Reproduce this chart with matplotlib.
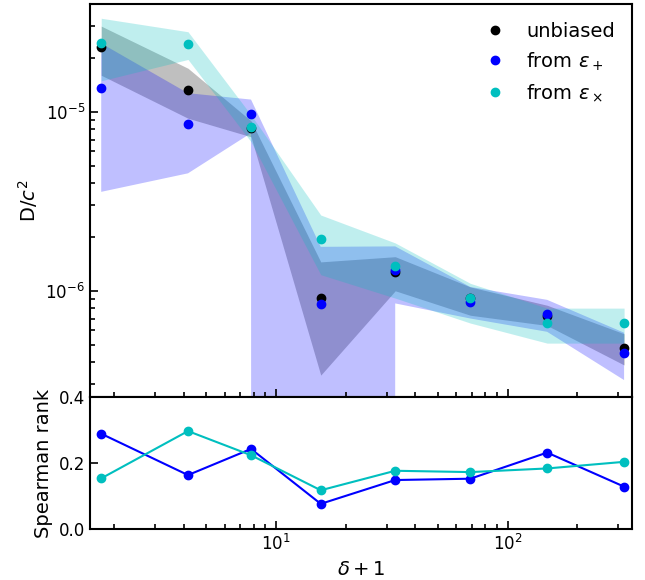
import matplotlib
matplotlib.use("Agg")
import matplotlib.pyplot as plt
from matplotlib.ticker import NullFormatter, FixedLocator

# delta + 1 bin positions
x = [1.76, 4.17, 7.8, 15.6, 32.7, 69.0, 148.0, 318.0]

# D/c^2 estimates
d_unbiased = [2.31e-5, 1.33e-5, 8.07e-6, 9.06e-7, 1.28e-6, 9.1e-7, 7.25e-7, 4.8e-7]
d_plus = [1.36e-5, 8.5e-6, 9.7e-6, 8.4e-7, 1.31e-6, 8.7e-7, 7.4e-7, 4.5e-7]
d_cross = [2.41e-5, 2.38e-5, 8.2e-6, 1.94e-6, 1.38e-6, 9.1e-7, 6.6e-7, 6.6e-7]

# band limits (mean +/- spread)
unb_lo = [1.6e-5, 9.2e-6, 7.25e-6, 3.38e-7, 1.0e-6, 7.3e-7, 6.4e-7, 3.85e-7]
unb_hi = [3.01e-5, 1.75e-5, 8.9e-6, 1.45e-6, 1.55e-6, 1.05e-6, 8.3e-7, 5.75e-7]
plus_lo = [3.57e-6, 4.53e-6, 7.6e-6, -8e-8, 8.5e-7, 7.0e-7, 5.9e-7, 3.17e-7]
plus_hi = [2.41e-5, 1.27e-5, 1.17e-5, 1.76e-6, 1.77e-6, 1.05e-6, 8.9e-7, 5.83e-7]
cross_lo = [1.49e-5, 1.96e-5, 6.8e-6, 1.23e-6, 9.1e-7, 6.6e-7, 5.1e-7, 5.1e-7]
cross_hi = [3.33e-5, 2.8e-5, 9.6e-6, 2.65e-6, 1.85e-6, 1.1e-6, 8.0e-7, 8.0e-7]

# Spearman rank correlation
rank_plus = [0.289, 0.164, 0.243, 0.077, 0.149, 0.153, 0.232, 0.129]
rank_cross = [0.154, 0.297, 0.224, 0.118, 0.177, 0.173, 0.184, 0.204]

fig = plt.figure(figsize=(6.45, 5.8), dpi=100)
ax = fig.add_axes([0.1395, 0.3155, 0.8408, 0.6776])
ax2 = fig.add_axes([0.1395, 0.0874, 0.8408, 0.2281], sharex=ax)

ax.set_xscale('log')
ax.set_yscale('log')

# error bands
ax.fill_between(x, unb_lo, unb_hi, color='k', alpha=0.25, lw=0)
ax.fill_between(x, plus_lo, plus_hi, color='b', alpha=0.25, lw=0)
ax.fill_between(x, cross_lo, cross_hi, color='c', alpha=0.25, lw=0)

# points
ax.plot(x, d_unbiased, 'o', color='k', ms=6, label='unbiased')
ax.plot(x, d_plus, 'o', color='b', ms=6, label=r'from $\epsilon_+$')
ax.plot(x, d_cross, 'o', color='c', ms=6, label=r'from $\epsilon_\times$')

ax.set_xlim(1.574, 345)
ax.set_ylim(2.55e-7, 4.0e-5)
ax.set_ylabel('D/$c^2$', fontsize=14)
ax.legend(loc='upper right', frameon=False, fontsize=14, numpoints=1,
          handletextpad=0.6)

# bottom panel
ax2.plot(x, rank_plus, 'o-', color='b', ms=6, lw=1.5)
ax2.plot(x, rank_cross, 'o-', color='c', ms=6, lw=1.5)
ax2.set_ylim(0, 0.4)
ax2.yaxis.set_major_locator(FixedLocator([0.0, 0.2, 0.4]))
ax2.set_ylabel('Spearman rank', fontsize=14)
ax2.set_xlabel(r'$\delta+1$', fontsize=14)

for a in (ax, ax2):
    for s in a.spines.values():
        s.set_linewidth(1.5)
    a.tick_params(which='both', direction='in', labelsize=12, width=1.2)
    a.tick_params(which='major', length=6)
    a.tick_params(which='minor', length=3.5)
    a.xaxis.set_minor_formatter(NullFormatter())
ax.yaxis.set_minor_formatter(NullFormatter())
ax.tick_params(axis='x', labelbottom=False)

fig.savefig('out.png', dpi=100)
